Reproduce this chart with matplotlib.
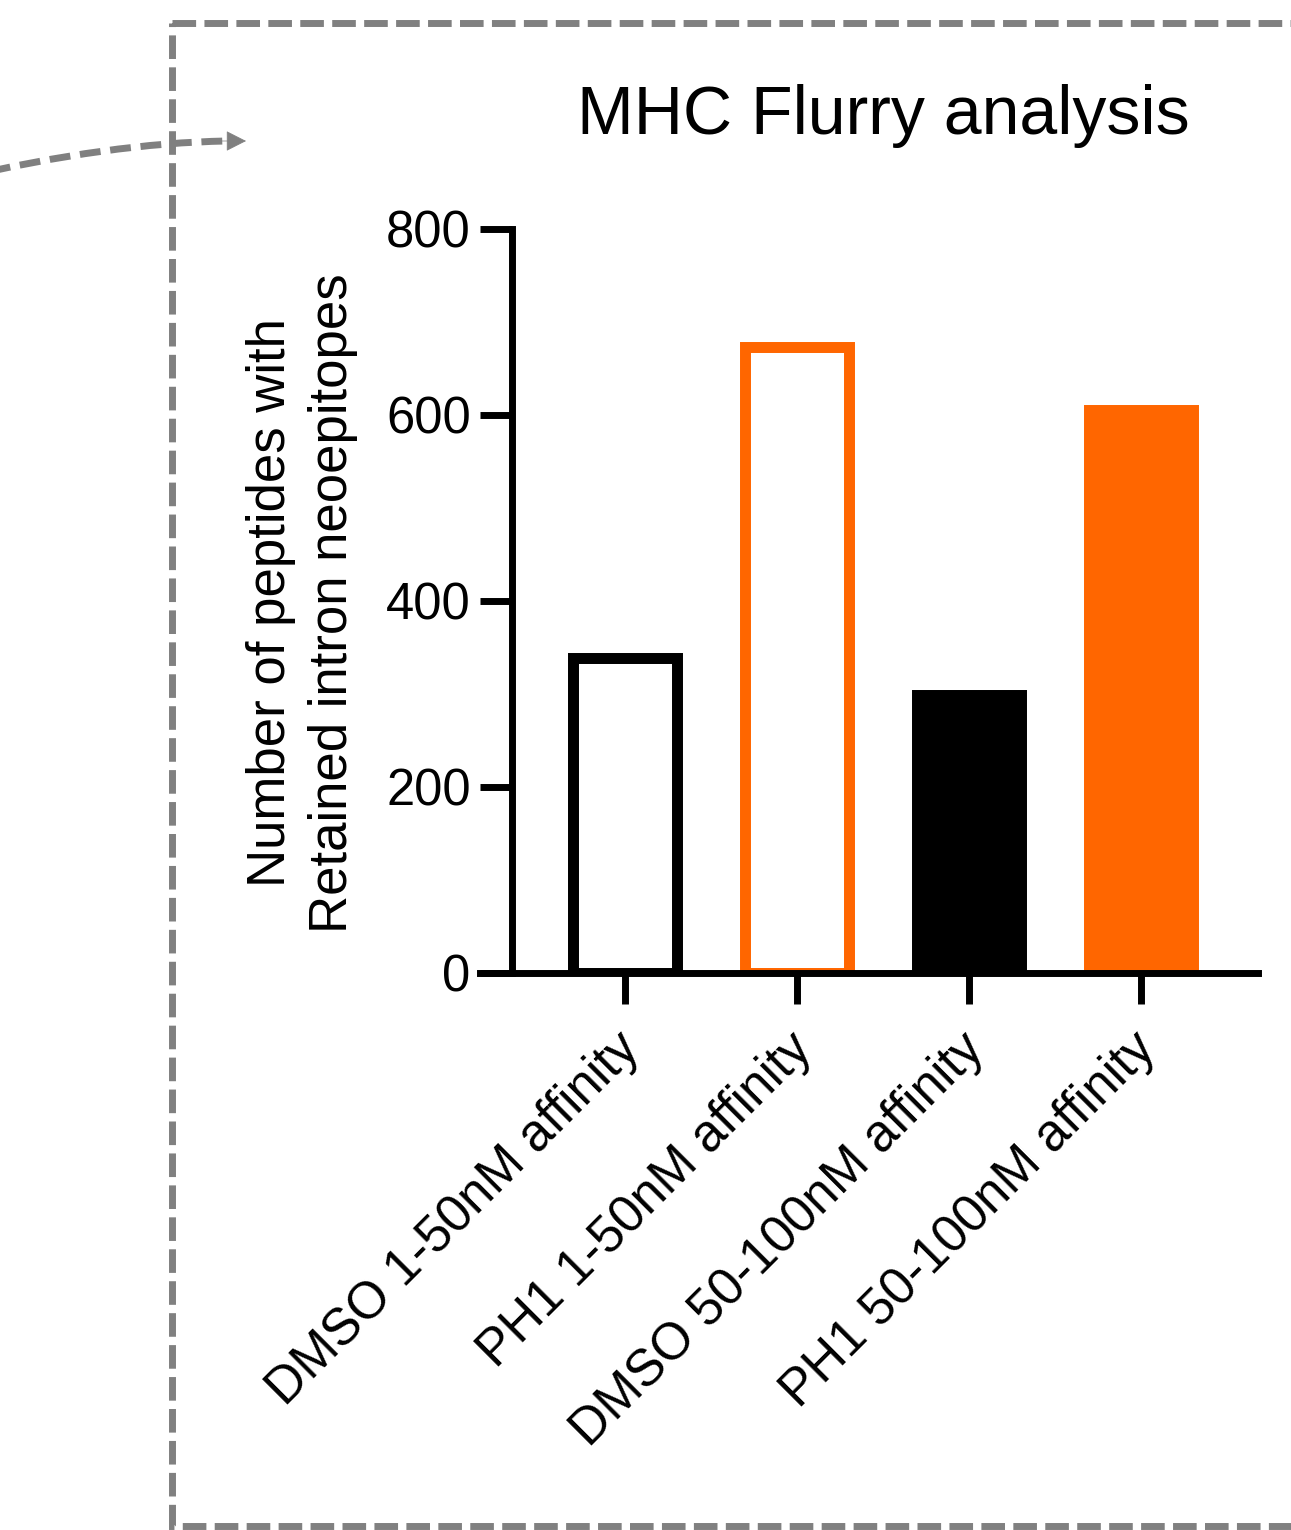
import numpy as np
import matplotlib
matplotlib.use("Agg")
import matplotlib.pyplot as plt
from matplotlib.patches import Rectangle, PathPatch, FancyArrowPatch
from matplotlib.path import Path
from matplotlib.transforms import ScaledTranslation

plt.rcParams['font.family'] = ['Liberation Sans', 'DejaVu Sans']

categories = ["DMSO 1-50nM affinity", "PH1 1-50nM affinity",
              "DMSO 50-100nM affinity", "PH1 50-100nM affinity"]
values = [339, 673, 299, 605]
edge_colors = ["black", "#FF6600", "black", "#FF6600"]
fill_colors = ["white", "white", "black", "#FF6600"]
y_ticks = [0, 200, 400, 600, 800]

W, H = 1291, 1530
fig = plt.figure(figsize=(W / 100, H / 100), dpi=100)


def fx(px):
    return px / W


def fy(py):
    return 1 - py / H


# overlay for the dashed box and arrow (pixel coords)
ov = fig.add_axes([0, 0, 1, 1], zorder=0)
ov.set_xlim(0, W)
ov.set_ylim(H, 0)
ov.axis("off")
grey = "#808080"
box = Rectangle((172, 23), 1400, 1503, fill=False, edgecolor=grey, lw=5,
                linestyle=(0, (3.4, 1.2)), joinstyle="miter")
ov.add_patch(box)
curve = Path([(-40, 178), (110, 143), (226, 141)],
             [Path.MOVETO, Path.CURVE3, Path.CURVE3])
ov.add_patch(PathPatch(curve, fill=False, edgecolor=grey, lw=5,
                       linestyle=(0, (3.0, 1.4))))
ov.add_patch(FancyArrowPatch((220, 141), (246, 141),
                             arrowstyle="-|>,head_length=0.65,head_width=0.33",
                             mutation_scale=20, color=grey, lw=0.5,
                             shrinkA=0, shrinkB=0))

# main chart
left_px, right_px, top_px, bot_px = 480, 1258, 229, 973
ax = fig.add_axes([fx(left_px), fy(bot_px), fx(right_px - left_px),
                   (bot_px - top_px) / H], zorder=1)
ax.patch.set_alpha(0)
x = np.arange(len(categories))
ax.bar(x, values, width=0.6, color=fill_colors, edgecolor=edge_colors,
       linewidth=7.9, joinstyle="miter")
ax.set_xlim(-0.843, -0.843 + (right_px - left_px) / 172)
ax.set_ylim(0, 800)
ax.set_yticks(y_ticks)
ax.set_xticks(x)
ax.set_xticklabels([])
lab_tr = ax.get_xaxis_transform() + ScaledTranslation(-0.10, -0.51,
                                                       fig.dpi_scale_trans)
for xi, cat in zip(x, categories):
    ax.text(xi, 0, cat, transform=lab_tr, rotation=45, ha="right", va="top",
            rotation_mode="anchor", fontsize=37)
ax.tick_params(axis="y", labelsize=36.5, length=22.7, width=5, pad=7)
ax.tick_params(axis="x", length=22.5, width=5)
ax.spines["top"].set_visible(False)
ax.spines["right"].set_visible(False)
ax.spines["left"].set_position(("axes", (512 - left_px) / (right_px - left_px)))
for s in ("left", "bottom"):
    ax.spines[s].set_linewidth(5)

fig.text(fx(302), fy(603), "Number of peptides with\nRetained intron neoepitopes",
         rotation=90, ha="center", va="center", multialignment="center",
         fontsize=38, linespacing=1.3)
fig.text(fx(883), fy(116), "MHC Flurry analysis", ha="center", va="center",
         fontsize=49)

fig.savefig("out.png", dpi=100)
